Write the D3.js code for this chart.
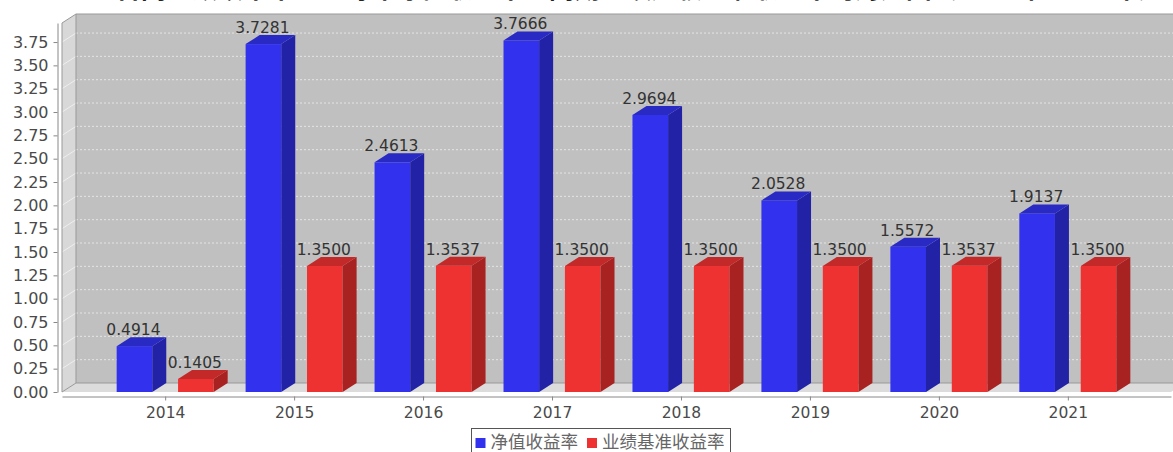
<!DOCTYPE html>
<html>
<head>
<meta charset="utf-8">
<script src="https://cdn.jsdelivr.net/npm/d3@7"></script>
<style>
  body { margin: 0; background: #fff; }
  svg { display: block; }
</style>
</head>
<body>
<svg id="chart" width="1173" height="452"></svg>
<script>
// Data
const years = ["2014", "2015", "2016", "2017", "2018", "2019", "2020", "2021"];
const seriesNames = ["净值收益率", "业绩基准收益率"];
const navReturn = [0.4914, 3.7281, 2.4613, 3.7666, 2.9694, 2.0528, 1.5572, 1.9137];
const benchReturn = [0.1405, 1.3500, 1.3537, 1.3500, 1.3500, 1.3500, 1.3537, 1.3500];
const yTicks = [0, 0.25, 0.5, 0.75, 1, 1.25, 1.5, 1.75, 2, 2.25, 2.5, 2.75, 3, 3.25, 3.5, 3.75];
const titleText = "基金合同生效以来本基金每年净值收益率与同期业绩比较基准收益率的对比图（2014年-2021年）";

const width = 1173, height = 452;
const dx = 14, dy = 9; // 3d offset
const plot = {left: 62, right: 1171, top: 23, bottom: 392};
const font = "'DejaVu Sans', 'Noto Sans CJK SC', sans-serif";
const cjkFont = "'Noto Sans CJK SC', 'DejaVu Sans', sans-serif";

const colors = {
    front: ["#3131ee", "#ee3131"],
    side: ["#2222a6", "#a82222"],
    top: ["#2929c4", "#c42929"]
};

const svg = d3.select("#chart");

const x = d3.scalePoint(years, [plot.left, plot.right]).padding(0.8);
const y = d3.scaleLinear([0, 3.954], [plot.bottom, plot.top]);
const inner = d3.scaleBand(seriesNames, [-48.5, 48.5]).paddingInner(0.42);

// Title (mostly cropped off at the top, as in the original)
svg.append("text")
    .attr("x", 614)
    .attr("y", -2)
    .attr("text-anchor", "middle")
    .attr("font-family", cjkFont)
    .attr("font-size", 25.5)
    .attr("font-weight", "bold")
    .attr("fill", "#222")
    .text(titleText);

// Walls
const backRight = plot.right + dx;
svg.append("rect")
    .attr("x", plot.left + dx)
    .attr("y", plot.top - dy)
    .attr("width", backRight - plot.left - dx)
    .attr("height", plot.bottom - plot.top)
    .attr("fill", "#c0c0c0");

svg.append("path")
    .attr("d", `M${plot.left},${plot.top}L${plot.left + dx},${plot.top - dy}L${plot.left + dx},${plot.bottom - dy}L${plot.left},${plot.bottom}Z`)
    .attr("fill", "#d8d8d8");

svg.append("path")
    .attr("d", `M${plot.left},${plot.bottom}L${plot.left + dx},${plot.bottom - dy}L${backRight},${plot.bottom - dy}L${plot.right},${plot.bottom}Z`)
    .attr("fill", "#dcdcdc");

// Gridlines on back and left wall
const grid = svg.append("g");
grid.selectAll("line.back")
    .data(yTicks.filter(d => d > 0))
    .join("line")
    .attr("class", "back")
    .attr("x1", plot.left + dx)
    .attr("x2", backRight)
    .attr("y1", d => y(d) - dy)
    .attr("y2", d => y(d) - dy)
    .attr("stroke", "#eeeeee")
    .attr("stroke-width", 0.8)
    .attr("stroke-dasharray", "2,2");
grid.selectAll("line.side")
    .data(yTicks.filter(d => d > 0))
    .join("line")
    .attr("class", "side")
    .attr("x1", plot.left)
    .attr("x2", plot.left + dx)
    .attr("y1", d => y(d))
    .attr("y2", d => y(d) - dy)
    .attr("stroke", "#f4f4f4")
    .attr("stroke-width", 0.8);

// Wall outline
svg.append("path")
    .attr("d", `M${plot.left},${plot.bottom}L${plot.left},${plot.top}L${plot.left + dx},${plot.top - dy}L${backRight},${plot.top - dy}`
        + `M${plot.left + dx},${plot.top - dy}L${plot.left + dx},${plot.bottom - dy}L${backRight},${plot.bottom - dy}`
        + `M${plot.left},${plot.bottom}L${plot.left + dx},${plot.bottom - dy}`)
    .attr("fill", "none")
    .attr("stroke", "#999")
    .attr("stroke-width", 1);

// Bars
const data = [];
years.forEach((yr, i) => {
    [navReturn[i], benchReturn[i]].forEach((v, s) => data.push({year: yr, series: s, value: v}));
});
const bw = inner.bandwidth();
const barX = d => x(d.year) + inner(seriesNames[d.series]);

const bars = svg.append("g").selectAll("g")
    .data(data)
    .join("g");

bars.append("rect")
    .attr("x", barX)
    .attr("y", d => y(d.value))
    .attr("width", bw)
    .attr("height", d => y(0) - y(d.value))
    .attr("fill", d => colors.front[d.series]);

bars.append("path")
    .attr("d", d => {
        const x0 = barX(d) + bw, yt = y(d.value), yb = y(0);
        return `M${x0},${yt}L${x0 + dx},${yt - dy}L${x0 + dx},${yb - dy}L${x0},${yb}Z`;
    })
    .attr("fill", d => colors.side[d.series]);

bars.append("path")
    .attr("d", d => {
        const x0 = barX(d), yt = y(d.value);
        return `M${x0},${yt}L${x0 + dx},${yt - dy}L${x0 + bw + dx},${yt - dy}L${x0 + bw},${yt}Z`;
    })
    .attr("fill", d => colors.top[d.series]);

bars.append("text")
    .attr("x", d => barX(d) + bw / 2 - 1)
    .attr("y", d => y(d.value) - 11)
    .attr("text-anchor", "middle")
    .attr("font-family", font)
    .attr("font-size", 15.5)
    .attr("fill", "#333")
    .text(d => d.value.toFixed(4));

// Y axis
const yAxis = d3.axisLeft(y).tickValues(yTicks).tickFormat(d3.format(".2f"))
    .tickSizeInner(4).tickSizeOuter(0).tickPadding(5);
svg.append("g")
    .attr("transform", `translate(57.5,0)`)
    .call(yAxis)
    .call(g => g.select(".domain").attr("stroke", "#888"))
    .call(g => g.selectAll(".tick line").attr("stroke", "#888"))
    .call(g => g.selectAll(".tick text")
        .attr("font-family", font)
        .attr("font-size", 16)
        .attr("fill", "#4a4a4a"));

// X axis
const xAxis = d3.axisBottom(x).tickSizeInner(4).tickSizeOuter(0).tickPadding(6);
svg.append("g")
    .attr("transform", `translate(0,396.5)`)
    .call(xAxis)
    .call(g => g.select(".domain").attr("stroke", "#888"))
    .call(g => g.selectAll(".tick line").attr("stroke", "#888"))
    .call(g => g.selectAll(".tick text")
        .attr("font-family", font)
        .attr("font-size", 15.5)
        .attr("fill", "#4a4a4a"));

// Legend
const legend = svg.append("g");
const box = legend.append("rect")
    .attr("fill", "#fff")
    .attr("stroke", "#555")
    .attr("stroke-width", 1);
let lx = 0;
const items = [];
seriesNames.forEach((name, i) => {
    const item = legend.append("g");
    item.append("rect")
        .attr("x", 0).attr("y", -9)
        .attr("width", 10).attr("height", 10)
        .attr("fill", colors.front[i]);
    const t = item.append("text")
        .attr("x", 15).attr("y", 1)
        .attr("font-family", cjkFont)
        .attr("font-size", 17.5)
        .attr("fill", "#666")
        .text(name);
    const w = 15 + t.node().getComputedTextLength();
    items.push({item, x: lx});
    lx += w + 9;
});
const legendW = lx - 9 + 10;
const legendX = 600 - legendW / 2;
items.forEach(d => d.item.attr("transform", `translate(${legendX + 5 + d.x},447)`));
box.attr("x", Math.round(legendX) + 0.5)
    .attr("y", 428.5)
    .attr("width", Math.round(legendW))
    .attr("height", 30);
</script>
</body>
</html>
